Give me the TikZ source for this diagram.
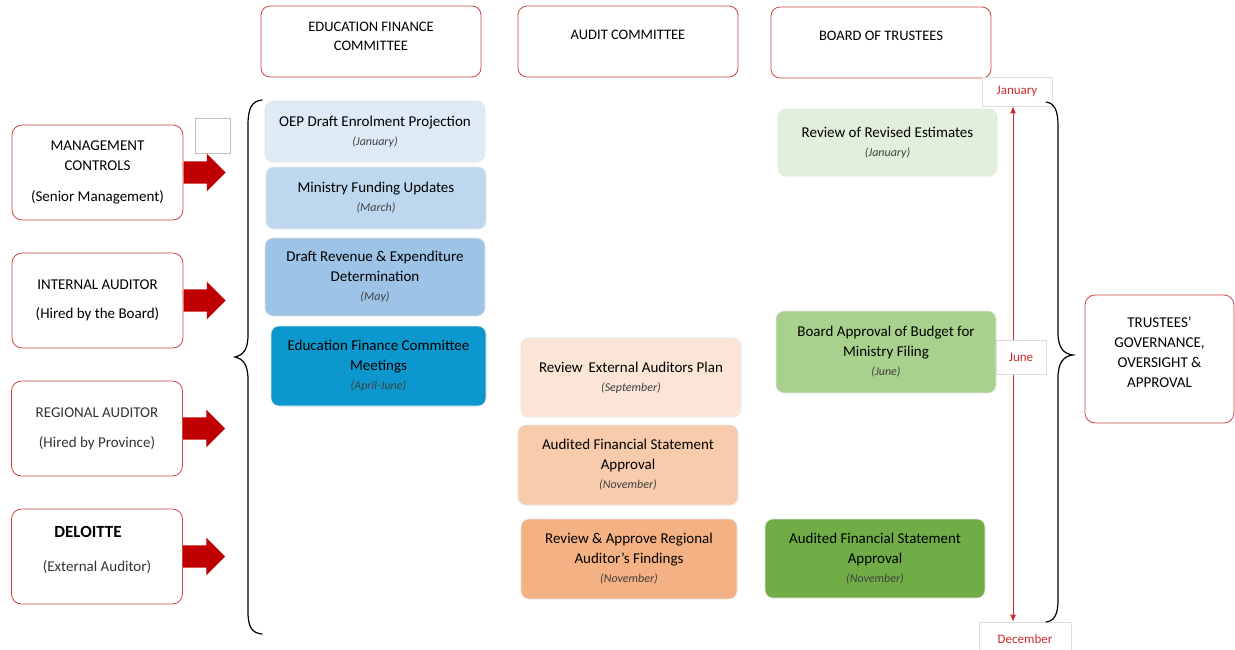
\documentclass[tikz,border=0pt]{standalone}
\usepackage{fontspec}
\setmainfont{Carlito}
\usetikzlibrary{arrows.meta, shapes.arrows, positioning}

\definecolor{boxred}{RGB}{205,70,70}
\definecolor{arrowred}{RGB}{192,0,0}
\definecolor{linered}{RGB}{205,45,45}
\definecolor{labelgray}{RGB}{220,220,220}
\definecolor{blueA}{RGB}{222,234,246}
\definecolor{blueB}{RGB}{189,215,238}
\definecolor{blueC}{RGB}{157,195,230}
\definecolor{blueD}{RGB}{12,152,206}
\definecolor{peachA}{RGB}{251,229,214}
\definecolor{peachB}{RGB}{248,203,173}
\definecolor{peachC}{RGB}{244,177,131}
\definecolor{greenA}{RGB}{226,239,218}
\definecolor{greenB}{RGB}{169,209,142}
\definecolor{greenC}{RGB}{112,173,71}

\newcommand{\when}[1]{{\fontsize{12}{14}\selectfont\itshape\color{black!75}(#1)}}

\tikzset{
  headbox/.style={draw=boxred, line width=0.8pt, rounded corners=9pt, fill=white,
    minimum width=220pt, minimum height=71pt},
  headtext/.style={align=center, font=\fontsize{14.5}{19}\selectfont},
  sidebox/.style={draw=boxred, line width=0.8pt, rounded corners=10pt, fill=white,
    align=center, minimum width=171pt, minimum height=95pt},
  eventbox/.style={draw=black!10, line width=0.6pt, rounded corners=8pt,
    align=center, minimum width=220pt},
  redarrow/.style={single arrow, fill=arrowred, draw=none, inner xsep=0pt, inner ysep=11pt,
    minimum height=42pt, single arrow head extend=7.5pt, single arrow head indent=0pt},
  monthbox/.style={draw=labelgray, line width=0.6pt, fill=white, text=linered,
    font=\fontsize{13}{15}\selectfont},
  timeline/.style={linered, line width=0.9pt, {Latex[length=7pt,width=6pt]}-{Latex[length=7pt,width=6pt]}},
  brace/.style={line width=1.2pt, line cap=round}
}

\begin{document}
\begin{tikzpicture}[x=1pt, y=-1pt, font=\fontsize{15}{20}\selectfont]
    \useasboundingbox (0,0) rectangle (1235,649);

    % column heads
    \node[headbox] at (371,41.5) (efc) {};
    \node[headtext] at ([yshift=5pt]efc.center) (efct) {EDUCATION FINANCE\\COMMITTEE};
    \node[headbox] at (628,41.5) (audit) {};
    \node[headtext] at ([yshift=6.5pt]audit.center) (auditt) {AUDIT COMMITTEE};
    \node[headbox] at (881,42.5) (board) {};
    \node[headtext] at ([yshift=6.5pt]board.center) (boardt) {BOARD OF TRUSTEES};

    % left side
    \node[sidebox] at (97.5,172.5) (mgmt) {MANAGEMENT\\CONTROLS\\[11pt](Senior Management)};
    \node[sidebox] at (97.5,300.5) (internal) {INTERNAL AUDITOR\\[9pt](Hired by the Board)};
    \node[sidebox, text=black!80] at (97,428.5) (regional) {REGIONAL AUDITOR\\[10pt](Hired by Province)};
    \node[sidebox, text=black!80] at (97,556.5) (deloitte)
      {\hspace*{-18pt}{\fontsize{17}{20}\selectfont\bfseries\color{black} DELOITTE}\\[14pt](External Auditor)\\[-4pt]};
    \node[draw=black!25, line width=0.6pt, minimum size=35pt] at (213,135.5) (blank) {};

    \node[redarrow, right=0pt of mgmt] (ra) {};
    \node[redarrow, right=0pt of internal] (rb) {};
    \node[redarrow, right=0pt of regional] (rc) {};
    \node[redarrow, right=0pt of deloitte] (rd) {};

    % education finance committee
    \node[eventbox, fill=blueA, minimum height=61pt] at (375,131.5) (oep)
      {OEP Draft Enrolment Projection\\[-1pt]\when{January}};
    \node[eventbox, fill=blueB, minimum height=62pt] at (376,198) (funding)
      {Ministry Funding Updates\\[-1pt]\when{March}};
    \node[eventbox, fill=blueC, minimum height=78pt] at (375,277) (draft)
      {Draft Revenue \& Expenditure\\Determination\\[-1pt]\when{May}};
    \node[eventbox, fill=blueD, minimum width=215pt, minimum height=80pt] at (378.5,366) (meetings)
      {Education Finance Committee\\Meetings\\[-1pt]\when{April-June}};

    % audit committee
    \node[eventbox, fill=peachA, minimum height=79pt] at (631,377.5) (extplan)
      {Review\, External Auditors Plan\\[-1pt]\when{September}};
    \node[eventbox, fill=peachB, minimum height=80pt] at (628,465) (afsa)
      {Audited Financial Statement\\Approval\\[-1pt]\when{November}};
    \node[eventbox, fill=peachC, minimum width=216pt, minimum height=80pt] at (629,559) (regfind)
      {Review \& Approve Regional\\Auditor's Findings\\[-1pt]\when{November}};

    % board of trustees
    \node[eventbox, fill=greenA, minimum width=219pt, minimum height=67pt] at (887.5,142.5) (revest)
      {Review of Revised Estimates\\[-1pt]\when{January}};
    \node[eventbox, fill=greenB, minimum height=82pt] at (886,352) (budget)
      {Board Approval of Budget for\\Ministry Filing\\[-1pt]\when{June}};
    \node[eventbox, fill=greenC, minimum height=79pt] at (875,558.5) (afsb)
      {Audited Financial Statement\\Approval\\[-1pt]\when{November}};

    % timeline
    \coordinate (tl) at (1013,0);
    \node[monthbox, minimum width=70pt, minimum height=29pt] at (1017,91.5) (jan) {January};
    \node[monthbox, minimum width=92pt, minimum height=36pt] at (1025,640) (dec) {\raisebox{3pt}{December}};
    \draw[timeline] (jan.south -| tl) -- (dec.north -| tl); % January -> December
    \node[monthbox, minimum width=50pt, minimum height=34pt] at (1021,357) (june) {June};

    % right side
    \node[sidebox, minimum width=149pt, minimum height=128pt] at (1159.5,359) (trustees)
      {TRUSTEES'\\GOVERNANCE,\\OVERSIGHT \&\\APPROVAL\\[-6pt]};

    % braces
    \draw[brace] (262,100) .. controls (252,101) and (248,108) .. (248,125) -- (248,335)
      .. controls (248,350) and (243,355) .. (235,357) .. controls (243,359) and (248,364) .. (248,380)
      -- (248,612) .. controls (248,627) and (252,633) .. (262,634); % left brace
    \draw[brace] (1046,102) .. controls (1054,103) and (1058,110) .. (1058,125) -- (1058,333)
      .. controls (1058,348) and (1064,354) .. (1073,355) .. controls (1064,356) and (1058,362) .. (1058,378)
      -- (1058,600) .. controls (1058,615) and (1054,621) .. (1046,622); % right brace

\end{tikzpicture}
\end{document}
